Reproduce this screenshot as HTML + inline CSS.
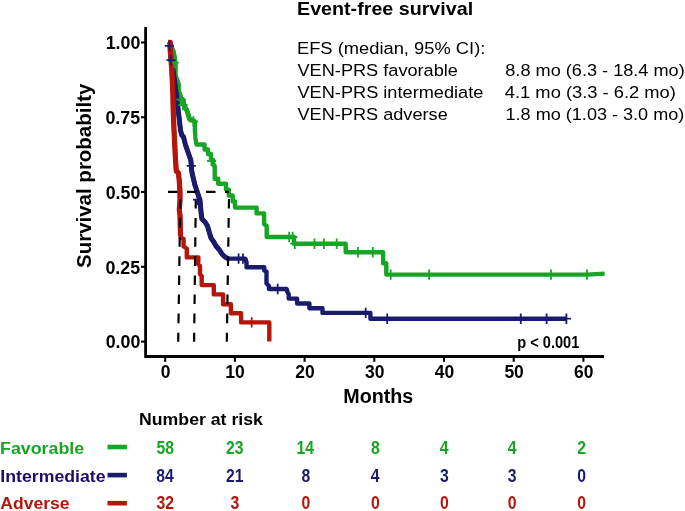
<!DOCTYPE html>
<html><head><meta charset="utf-8"><style>
html,body{margin:0;padding:0;background:#fff;}
svg{display:block;font-family:"Liberation Sans",sans-serif;will-change:transform;}
</style></head><body>
<svg width="685" height="511" viewBox="0 0 685 511">
<path d="M145.6,27V356.5H604" stroke="#000" stroke-width="2.8" fill="none"/>
<path d="M141,42.45H145" stroke="#000" stroke-width="2.1"/>
<text x="105.65" y="48.85" font-size="18" font-weight="bold" fill="#000" textLength="34.68" lengthAdjust="spacingAndGlyphs">1.00</text>
<path d="M141,117.25H145" stroke="#000" stroke-width="2.1"/>
<text x="105.39" y="123.65" font-size="18" font-weight="bold" fill="#000" textLength="34.68" lengthAdjust="spacingAndGlyphs">0.75</text>
<path d="M141,192.0H145" stroke="#000" stroke-width="2.1"/>
<text x="105.65" y="199.0" font-size="18" font-weight="bold" fill="#000" textLength="34.68" lengthAdjust="spacingAndGlyphs">0.50</text>
<path d="M141,266.8H145" stroke="#000" stroke-width="2.1"/>
<text x="105.39" y="273.8" font-size="18" font-weight="bold" fill="#000" textLength="34.68" lengthAdjust="spacingAndGlyphs">0.25</text>
<path d="M141,341.6H145" stroke="#000" stroke-width="2.1"/>
<text x="105.65" y="348.0" font-size="18" font-weight="bold" fill="#000" textLength="34.68" lengthAdjust="spacingAndGlyphs">0.00</text>
<path d="M165.2,357.5V361.8" stroke="#000" stroke-width="2.1"/>
<text x="160.65" y="377.6" font-size="18" font-weight="bold" fill="#000" textLength="9.71" lengthAdjust="spacingAndGlyphs">0</text>
<path d="M234.9,357.5V361.8" stroke="#000" stroke-width="2.1"/>
<text x="225.29" y="377.6" font-size="18" font-weight="bold" fill="#000" textLength="19.42" lengthAdjust="spacingAndGlyphs">10</text>
<path d="M304.6,357.5V361.8" stroke="#000" stroke-width="2.1"/>
<text x="295.25" y="377.6" font-size="18" font-weight="bold" fill="#000" textLength="19.42" lengthAdjust="spacingAndGlyphs">20</text>
<path d="M374.3,357.5V361.8" stroke="#000" stroke-width="2.1"/>
<text x="365.04" y="377.6" font-size="18" font-weight="bold" fill="#000" textLength="19.42" lengthAdjust="spacingAndGlyphs">30</text>
<path d="M444.0,357.5V361.8" stroke="#000" stroke-width="2.1"/>
<text x="434.83" y="377.6" font-size="18" font-weight="bold" fill="#000" textLength="19.42" lengthAdjust="spacingAndGlyphs">40</text>
<path d="M513.7,357.5V361.8" stroke="#000" stroke-width="2.1"/>
<text x="504.40" y="377.6" font-size="18" font-weight="bold" fill="#000" textLength="19.42" lengthAdjust="spacingAndGlyphs">50</text>
<path d="M583.4,357.5V361.8" stroke="#000" stroke-width="2.1"/>
<text x="574.05" y="377.6" font-size="18" font-weight="bold" fill="#000" textLength="19.42" lengthAdjust="spacingAndGlyphs">60</text>
<path d="M170.4,43 L171.2,46.5 L173.4,51.7 L174.5,58 L175.2,65 L175.2,75 L176.4,79 L178.4,84 L178.4,92 L179.9,94 L180.5,98 L183.2,100 L184.2,106 L186.7,110 L188,114 L189.5,119 L194.9,121.5 L194.9,130 L195.4,138 L196.5,144.5 L204.6,144.5 L204.6,149.5 L208,149.5 L208,154 L211,154 L211,160 L213.3,160 L213.3,165 L214.7,166 L214.7,178.7 L218.2,178.7 L218.2,183.7 L226,183.7 L226,189.6 L228.8,189.6 L228.8,195.5 L232.7,195.5 L232.7,201.4 L235,201.4 L235,207.6 L256.6,207.6 L256.6,213.4 L264.1,213.4 L264.1,224 L266.7,226 L266.7,237 L294,237 L294,243.7 L345.7,243.7 L345.7,252.3 L383.1,252.3 L383.1,263.3 L386.3,263.3 L386.3,274.6 L587,274.6 L604.7,273.6" stroke="#17a525" stroke-width="4.4" fill="none" stroke-linejoin="round"/>
<path d="M170.4,43 L171.2,46.5 L173.4,51.7 L174.5,58 L175.2,65 L175.2,75 L176.4,79 L178.4,84 L178.4,92 L179.9,94 L180.5,98 L183.2,100 L184.2,106 L186.7,110 L188,114 L189.5,119 L194.9,121.5" stroke="#17a525" stroke-width="4.8" fill="none" stroke-linejoin="round"/>
<path d="M170,42.4 L170.2,46 L171,60 L172.5,68 L173.7,75 L176.4,95 L178.2,110 L180.5,130 L181.7,135 L183.5,137 L185.5,145 L188.3,153 L190.8,160 L191.4,166 L191.5,170 L193,177 L194.9,185 L197.3,192 L199.9,200 L200.7,208 L201.3,215 L202,219 L205,222 L207.5,226 L209.2,232 L211,238 L213.8,242 L216,246 L219.5,250 L222,254 L225,257 L228,258.6 L245,258.6 L246.5,262 L246.5,267.2 L264.3,267.2 L264.3,270.5 L266.5,271.5 L266.5,283.5 L269,286 L269,289 L286.6,289 L287.5,292 L288.7,294.5 L288.7,298.6 L297.1,298.6 L297.1,303.5 L309.4,303.5 L309.4,308.2 L322.5,308.2 L322.5,312.9 L370.4,312.9 L370.4,318.7 L566.4,318.7" stroke="#1b1b6e" stroke-width="4.4" fill="none" stroke-linejoin="round"/>
<path d="M170,42.4 L170.2,46 L171,60 L172.5,68 L173.7,75 L176.4,95 L178.2,110 L180.5,130 L181.7,135 L183.5,137 L185.5,145 L188.3,153 L190.8,160 L191.4,166 L191.5,170 L193,177 L194.9,185 L197.3,192 L199.9,200 L200.7,208 L201.3,215 L202,219 L205,222 L207.5,226 L209.2,232 L211,238 L213.8,242 L216,246 L219.5,250 L222,254 L225,257 L228,258.6" stroke="#1b1b6e" stroke-width="5.0" fill="none" stroke-linejoin="round"/>
<path d="M168.4,42.3 L170.2,42.3 L170.2,50 L171,60 L171.8,70 L172.9,95 L173.2,110 L174,130 L175.5,160 L176.3,171 L178.4,173 L179.2,180 L180,192 L180,200 L179.3,210 L180,215 L180.5,236 L180.7,237.5 L183.6,239 L183.6,246.5 L186.8,248.5 L186.8,257.4 L198.4,257.4 L198.2,264 L200,266 L200,274 L201.7,276 L201.7,285.1 L213.8,285.1 L213.8,294.4 L223.1,294.4 L223.1,304.3 L230.9,304.3 L230.9,313.3 L241.1,313.3 L241.1,322.4 L269.3,322.4 L269.3,341.6" stroke="#b5150c" stroke-width="4.4" fill="none" stroke-linejoin="round"/>
<path d="M168.4,42.3 L170.2,42.3 L170.2,50 L171,60 L171.8,70 L172.9,95 L173.2,110 L174,130 L175.5,160 L176.3,171 L178.4,173 L179.2,180 L180,192 L180,200 L179.3,210 L180,215 L180.5,236" stroke="#b5150c" stroke-width="5.2" fill="none" stroke-linejoin="round"/>
<path d="M168,191.8H229" stroke="#000" stroke-width="2.2" stroke-dasharray="9.5 9.5" fill="none"/>
<path d="M180.3,199L178.2,341.8" stroke="#000" stroke-width="2.2" stroke-dasharray="9.6 9.5" fill="none"/>
<path d="M195.8,199L194.1,341.8" stroke="#000" stroke-width="2.2" stroke-dasharray="9.6 9.5" fill="none"/>
<path d="M229,199L226.8,341.8" stroke="#000" stroke-width="2.2" stroke-dasharray="9.6 9.5" fill="none"/>
<path d="M169.6,62.7H178.8M174.2,57.5V67.9M176.4,99.7H185.6M181.0,94.5V104.9M178.4,105.0H187.6M183.0,99.8V110.2M188.8,121.4H198.0M193.4,116.2V126.6M206.9,160.8H216.1M211.5,155.6V166.0M284.6,237.0H293.8M289.2,231.8V242.2M288.1,237.0H297.3M292.7,231.8V242.2M290.2,243.7H299.4M294.8,238.5V248.9M309.9,243.7H319.1M314.5,238.5V248.9M319.3,243.7H328.5M323.9,238.5V248.9M332.1,243.7H341.3M336.7,238.5V248.9M353.3,252.3H362.5M357.9,247.1V257.5M368.2,252.3H377.4M372.8,247.1V257.5M386.1,274.6H395.3M390.7,269.4V279.8M424.5,274.6H433.7M429.1,269.4V279.8M546.4,274.6H555.6M551.0,269.4V279.8M582.4,274.6H591.6M587.0,269.4V279.8" stroke="#17a525" stroke-width="1.8" fill="none"/>
<path d="M164.8,45.8H174.0M169.4,40.6V51.0M166.4,60.1H175.6M171.0,54.9V65.3M186.7,165.9H195.9M191.3,160.7V171.1M193.0,199.7H202.2M197.6,194.5V204.9M234.0,258.6H243.2M238.6,253.4V263.8M238.4,258.6H247.6M243.0,253.4V263.8M273.1,289.0H282.3M277.7,283.8V294.2M361.1,312.9H370.3M365.7,307.7V318.1M382.6,318.7H391.8M387.2,313.5V323.9M516.2,318.7H525.4M520.8,313.5V323.9M542.0,318.7H551.2M546.6,313.5V323.9M561.8,318.7H571.0M566.4,313.5V323.9" stroke="#1b1b6e" stroke-width="1.8" fill="none"/>
<path d="M247.1,322.4H256.3M251.7,317.2V327.6" stroke="#b5150c" stroke-width="1.8" fill="none"/>
<text x="-268.01" y="0" font-size="20" font-weight="bold" fill="#000" textLength="184.37" lengthAdjust="spacingAndGlyphs" transform="translate(91.3,0) rotate(-90)">Survival probabilty</text>
<text x="343.32" y="402.7" font-size="20" font-weight="bold" fill="#000" textLength="69.96" lengthAdjust="spacingAndGlyphs">Months</text>
<text x="517.25" y="348.0" font-size="16.8" font-weight="bold" fill="#000" textLength="62.06" lengthAdjust="spacingAndGlyphs">p &lt; 0.001</text>
<text x="297.02" y="14.7" font-size="18.5" font-weight="bold" fill="#000" textLength="176.14" lengthAdjust="spacingAndGlyphs">Event-free survival</text>
<text x="296.93" y="54.3" font-size="16.8" font-weight="normal" fill="#000" textLength="188.44" lengthAdjust="spacingAndGlyphs">EFS (median, 95% CI):</text>
<text x="297.51" y="76.1" font-size="16.8" font-weight="normal" fill="#000" textLength="160.45" lengthAdjust="spacingAndGlyphs">VEN-PRS favorable</text>
<text x="297.51" y="97.7" font-size="16.8" font-weight="normal" fill="#000" textLength="185.84" lengthAdjust="spacingAndGlyphs">VEN-PRS intermediate</text>
<text x="297.51" y="119.5" font-size="16.8" font-weight="normal" fill="#000" textLength="150.23" lengthAdjust="spacingAndGlyphs">VEN-PRS adverse</text>
<text x="505.28" y="76.1" font-size="16.8" font-weight="normal" fill="#000" textLength="179.46" lengthAdjust="spacingAndGlyphs">8.8 mo (6.3 - 18.4 mo)</text>
<text x="504.84" y="97.7" font-size="16.8" font-weight="normal" fill="#000" textLength="171.00" lengthAdjust="spacingAndGlyphs">4.1 mo (3.3 - 6.2 mo)</text>
<text x="505.54" y="119.5" font-size="16.8" font-weight="normal" fill="#000" textLength="178.80" lengthAdjust="spacingAndGlyphs">1.8 mo (1.03 - 3.0 mo)</text>
<text x="139.05" y="425.4" font-size="17" font-weight="bold" fill="#000" textLength="123.79" lengthAdjust="spacingAndGlyphs">Number at risk</text>
<text x="0.04" y="453.6" font-size="17.4" font-weight="bold" fill="#17a525" textLength="84.17" lengthAdjust="spacingAndGlyphs">Favorable</text>
<path d="M107.5,447.0H126.9" stroke="#17a525" stroke-width="4.6"/>
<text x="156.46" y="453.6" font-size="17.5" font-weight="bold" fill="#17a525" textLength="17.52" lengthAdjust="spacingAndGlyphs">58</text>
<text x="226.06" y="453.6" font-size="17.5" font-weight="bold" fill="#17a525" textLength="17.52" lengthAdjust="spacingAndGlyphs">23</text>
<text x="296.59" y="453.6" font-size="17.5" font-weight="bold" fill="#17a525" textLength="17.52" lengthAdjust="spacingAndGlyphs">14</text>
<text x="370.93" y="453.6" font-size="17.5" font-weight="bold" fill="#17a525" textLength="8.76" lengthAdjust="spacingAndGlyphs">8</text>
<text x="439.85" y="453.6" font-size="17.5" font-weight="bold" fill="#17a525" textLength="8.76" lengthAdjust="spacingAndGlyphs">4</text>
<text x="507.65" y="453.6" font-size="17.5" font-weight="bold" fill="#17a525" textLength="8.76" lengthAdjust="spacingAndGlyphs">4</text>
<text x="577.17" y="453.6" font-size="17.5" font-weight="bold" fill="#17a525" textLength="8.76" lengthAdjust="spacingAndGlyphs">2</text>
<text x="0.35" y="481.5" font-size="17.4" font-weight="bold" fill="#1e0c66" textLength="105.19" lengthAdjust="spacingAndGlyphs">Intermediate</text>
<path d="M107.5,475.1H126.9" stroke="#1b1b6e" stroke-width="4.6"/>
<text x="156.26" y="481.5" font-size="17.5" font-weight="bold" fill="#1b1b6e" textLength="17.52" lengthAdjust="spacingAndGlyphs">84</text>
<text x="225.98" y="481.5" font-size="17.5" font-weight="bold" fill="#1b1b6e" textLength="17.52" lengthAdjust="spacingAndGlyphs">21</text>
<text x="301.43" y="481.5" font-size="17.5" font-weight="bold" fill="#1b1b6e" textLength="8.76" lengthAdjust="spacingAndGlyphs">8</text>
<text x="370.85" y="481.5" font-size="17.5" font-weight="bold" fill="#1b1b6e" textLength="8.76" lengthAdjust="spacingAndGlyphs">4</text>
<text x="440.01" y="481.5" font-size="17.5" font-weight="bold" fill="#1b1b6e" textLength="8.76" lengthAdjust="spacingAndGlyphs">3</text>
<text x="507.81" y="481.5" font-size="17.5" font-weight="bold" fill="#1b1b6e" textLength="8.76" lengthAdjust="spacingAndGlyphs">3</text>
<text x="577.13" y="481.5" font-size="17.5" font-weight="bold" fill="#1b1b6e" textLength="8.76" lengthAdjust="spacingAndGlyphs">0</text>
<text x="0.26" y="509.4" font-size="17.4" font-weight="bold" fill="#b5150c" textLength="69.29" lengthAdjust="spacingAndGlyphs">Adverse</text>
<path d="M107.5,503.2H126.9" stroke="#b5150c" stroke-width="4.6"/>
<text x="156.58" y="509.4" font-size="17.5" font-weight="bold" fill="#b5150c" textLength="17.52" lengthAdjust="spacingAndGlyphs">32</text>
<text x="230.51" y="509.4" font-size="17.5" font-weight="bold" fill="#b5150c" textLength="8.76" lengthAdjust="spacingAndGlyphs">3</text>
<text x="301.43" y="509.4" font-size="17.5" font-weight="bold" fill="#b5150c" textLength="8.76" lengthAdjust="spacingAndGlyphs">0</text>
<text x="370.93" y="509.4" font-size="17.5" font-weight="bold" fill="#b5150c" textLength="8.76" lengthAdjust="spacingAndGlyphs">0</text>
<text x="439.93" y="509.4" font-size="17.5" font-weight="bold" fill="#b5150c" textLength="8.76" lengthAdjust="spacingAndGlyphs">0</text>
<text x="507.73" y="509.4" font-size="17.5" font-weight="bold" fill="#b5150c" textLength="8.76" lengthAdjust="spacingAndGlyphs">0</text>
<text x="577.13" y="509.4" font-size="17.5" font-weight="bold" fill="#b5150c" textLength="8.76" lengthAdjust="spacingAndGlyphs">0</text>
</svg>
</body></html>
